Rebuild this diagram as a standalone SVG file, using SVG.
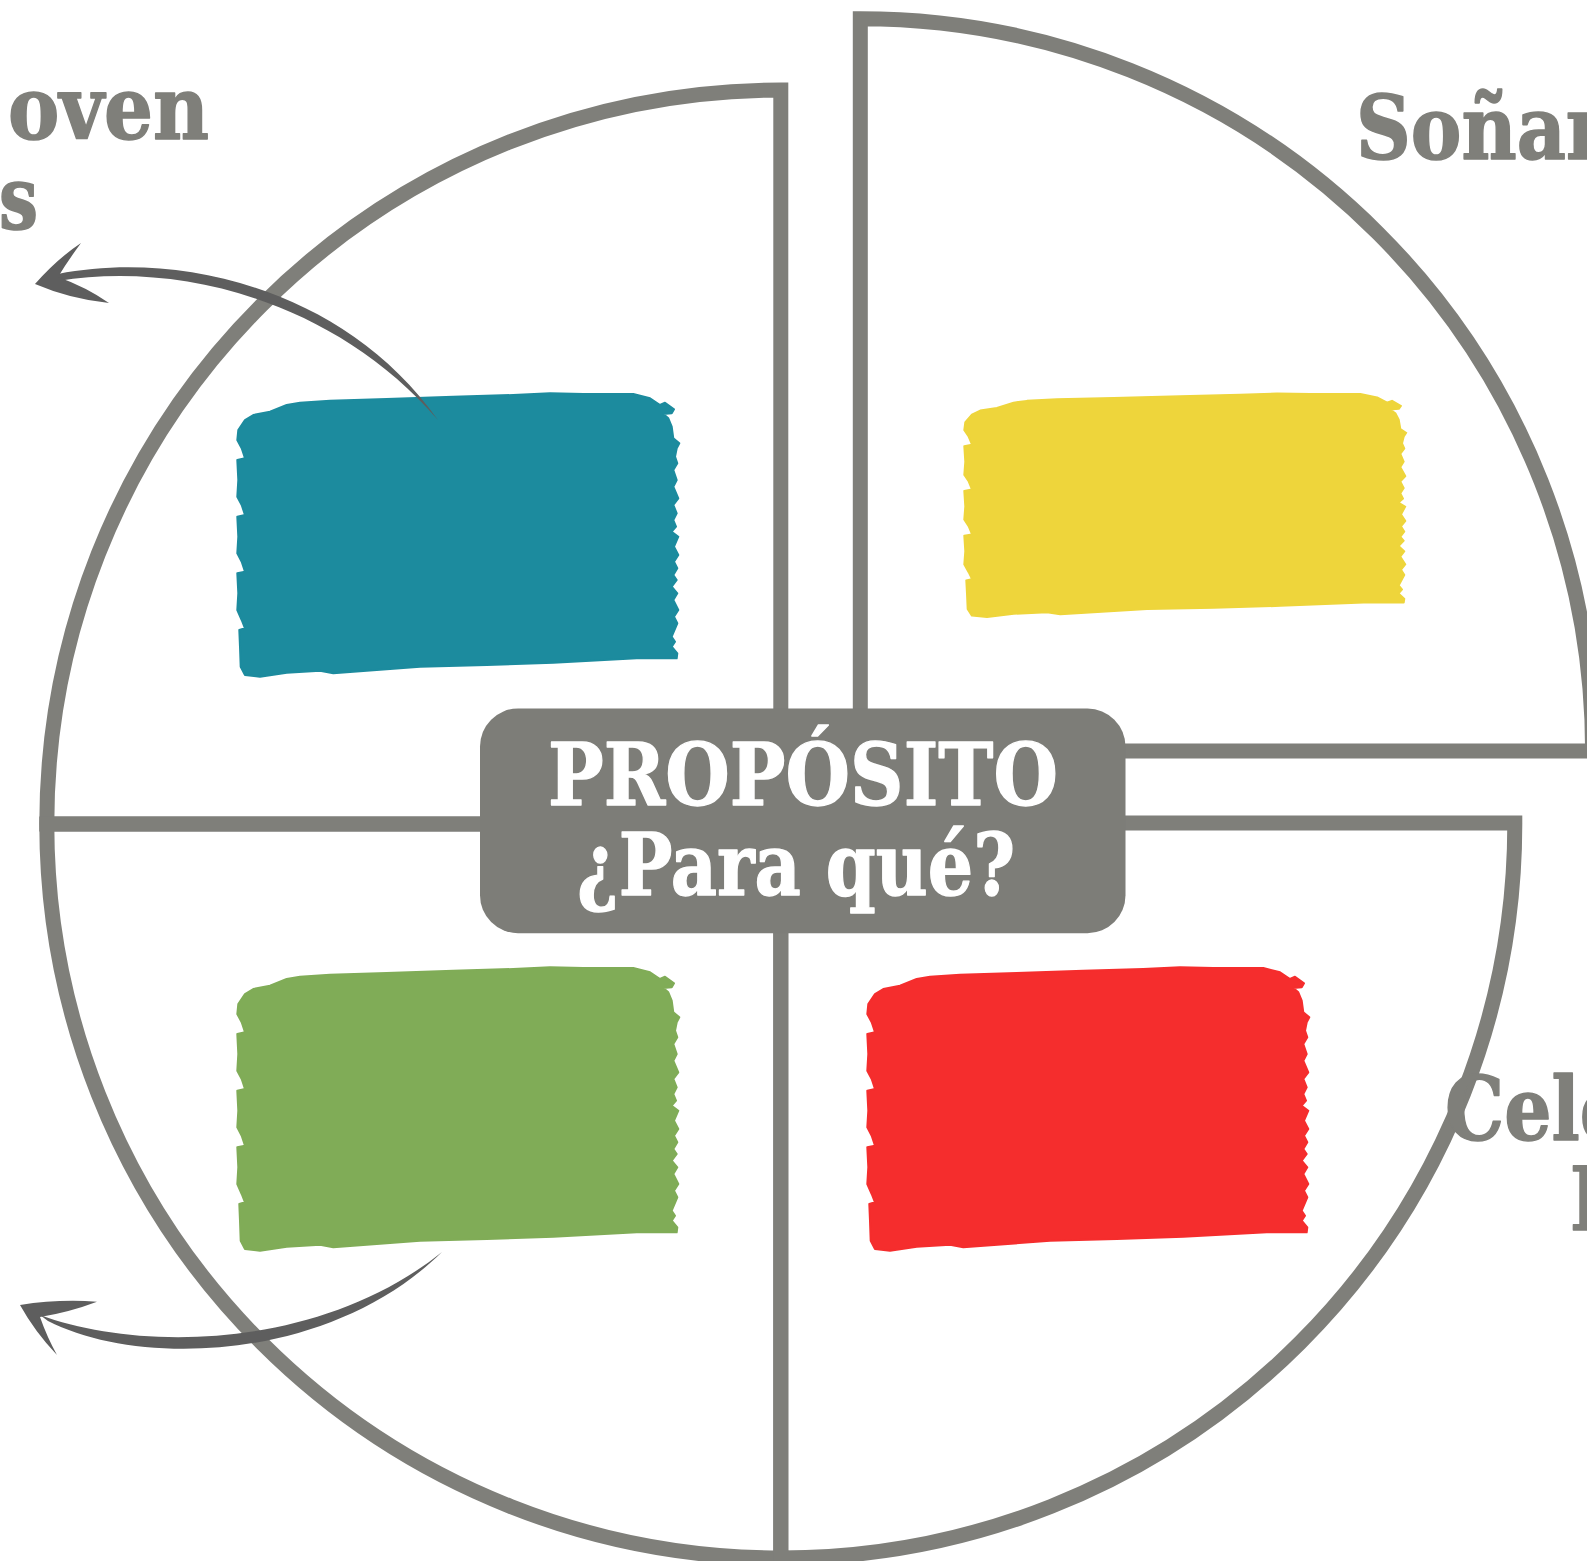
<svg xmlns="http://www.w3.org/2000/svg" xmlns:xlink="http://www.w3.org/1999/xlink" width="1587" height="1561" viewBox="0 0 1587 1561">
  <style>
    .ring { fill: none; stroke: #7f7f7a; stroke-width: 15; stroke-linejoin: miter; }
    .side { font-family: "DejaVu Serif", "Liberation Serif", serif; font-weight: bold; font-size: 88px; fill: #7f7f7a; stroke: #7f7f7a; stroke-width: 1.6; stroke-linejoin: round; }
    .center { font-family: "DejaVu Serif", "Liberation Serif", serif; font-weight: bold; font-size: 86px; fill: #ffffff; stroke: #ffffff; stroke-width: 1.4; stroke-linejoin: round; }
    .arrow { fill: #5e5e5e; }
    .brush { stroke-width: 2; stroke-linejoin: round; }
  </style>
  <defs>
    <path id="brush" d="M0.3,47 L1.3,37 8,27 16.3,22 33,18.7 49.7,12 63,9.7 93,7.7 149.7,6 216.3,3.7 276.3,2 313,0.3 346.3,1 396.3,1 413,5.3 423,12 428,9.7 437,16.3 434.7,20.3 426.3,21 431.3,25.3 434.7,33.7 436.3,45.3 442.3,50.3 439.7,55.3 438,63.7 440.3,70.3 436.3,77 439.7,87 436.3,93.7 441.3,105.3 436.3,112 439.7,120.3 436.3,127 439,133.7 434.7,138.7 441.3,143.7 437,153.7 441.3,162 437,168.7 440.3,175.3 436.3,182 439.7,187 434.7,193.7 440.3,200.3 436.3,207 441.3,217 437,223.7 440.3,230.3 434.7,243.7 438,248.7 434.7,253.7 440.3,260.3 439.7,265.3 399.7,265.3 316.3,269.7 249.7,272 183,273.7 96.3,280.3 83,277.7 49.7,279.7 23,283.7 8,282 3.7,273.7 3,253.7 2.3,237 8,235.3 4.7,227 0.3,217 1.3,200.3 0.3,180.3 8,178.7 4.7,168.7 0.3,160.3 1.3,143.7 0.3,123.7 8,122 4.7,112 0.3,103.7 1.3,87 0.3,67 8,65.3 4.7,55.3 Z"/>
  </defs>

  <g id="quadrants">
    <path id="quad-tl" class="ring" d="M780.8,720 V90 A734,734 0 0 0 46.8,824 H490"/>
    <path id="quad-bl" class="ring" d="M490,824 H46.8 A734,734 0 0 0 780.8,1558 V920"/>
    <path id="quad-br" class="ring" d="M780.8,920 V1558 A734,734 0 0 0 1514.8,823 H1110"/>
    <path id="quad-tr" class="ring" d="M1110,751 H1592.6 A732.3,732.3 0 0 0 860.3,18.7 V720"/>
  </g>

  <g id="node-teal"><use xlink:href="#brush" href="#brush" class="brush" transform="translate(237,393)" fill="#1c8b9e" stroke="#1c8b9e"/></g>
  <g id="node-yellow"><use xlink:href="#brush" href="#brush" class="brush" transform="translate(964,393) scale(1,0.79)" fill="#eed53b" stroke="#eed53b"/></g>
  <g id="node-green"><use xlink:href="#brush" href="#brush" class="brush" transform="translate(237,967)" fill="#80ac57" stroke="#80ac57"/></g>
  <g id="node-red"><use xlink:href="#brush" href="#brush" class="brush" transform="translate(867,967)" fill="#f52d2d" stroke="#f52d2d"/></g>

  <g id="node-center">
    <rect x="480" y="708.5" width="645.5" height="224.7" rx="38" ry="38" fill="#7d7d78"/>
    <text class="center" x="548" y="804.6" textLength="510" lengthAdjust="spacingAndGlyphs">PROPÓSITO</text>
    <text class="center" x="577" y="894.7" textLength="438" lengthAdjust="spacingAndGlyphs">¿Para qué?</text>
  </g>

  <g id="labels">
    <text class="side" x="8" y="138.7" textLength="201" lengthAdjust="spacingAndGlyphs">oven</text>
    <text class="side" x="-1" y="228.7" textLength="39" lengthAdjust="spacingAndGlyphs">s</text>
    <text class="side" x="1356" y="159" textLength="250" lengthAdjust="spacingAndGlyphs">Soñar</text>
    <text class="side" x="1445" y="1140" textLength="182" lengthAdjust="spacingAndGlyphs">Cele</text>
    <text class="side" x="1570" y="1230" textLength="50" lengthAdjust="spacingAndGlyphs">L</text>
  </g>

  <g id="connectors">
    <g id="arrow-top">
      <path class="arrow" d="M58,274 C180,250 345,289 438,420 C335,301 180,261 58,281 Z"/>
      <path class="arrow" d="M35,284 Q57,259 81,243 Q67,262 58,277 Q86,287 109,303 Q70,299 35,284 Z"/>
    </g>
    <g id="arrow-bottom">
      <path class="arrow" d="M40,1315 C140,1352 320,1350 442,1252 C330,1362 140,1368 48,1321 Z"/>
      <path class="arrow" d="M20,1305 Q58,1299 97,1301.7 Q70,1312 40,1317 Q47,1337 57,1355 Q35,1332 20,1305 Z"/>
    </g>
  </g>
</svg>
